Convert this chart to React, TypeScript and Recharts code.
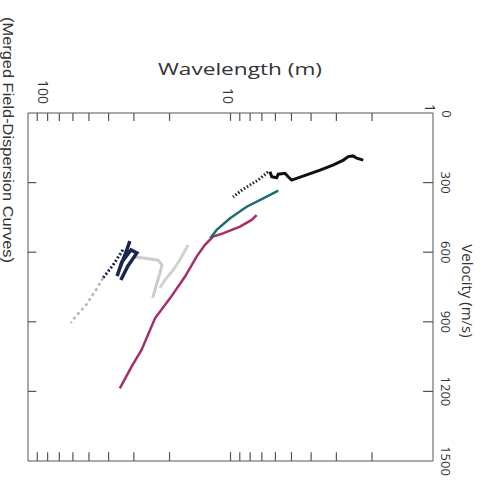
import { LineChart, Line, XAxis, YAxis, ReferenceArea, ReferenceLine } from "recharts";

// wavelength (m) / velocity (m/s) pairs
const blackCurve = [
  { w: 2.21, v: 203 },
  { w: 2.38, v: 195 },
  { w: 2.48, v: 185 },
  { w: 2.62, v: 188 },
  { w: 2.77, v: 203 },
  { w: 3.1, v: 224 },
  { w: 3.61, v: 246 },
  { w: 4.21, v: 267 },
  { w: 4.99, v: 289 },
  { w: 5.19, v: 275 },
  { w: 5.38, v: 260 },
  { w: 5.81, v: 264 },
  { w: 5.92, v: 279 },
  { w: 6.26, v: 275 },
  { w: 6.38, v: 253 },
];
const blackDotted = [
  { w: 6.53, v: 254 },
  { w: 7.31, v: 289 },
  { w: 8.01, v: 310 },
  { w: 8.77, v: 332 },
  { w: 9.72, v: 362 },
];
const tealCurve = [
  { w: 5.81, v: 335 },
  { w: 6.89, v: 368 },
  { w: 8.32, v: 404 },
  { w: 10.05, v: 454 },
  { w: 11.7, v: 504 },
  { w: 12.6, v: 540 },
];
const magentaCurve = [
  { w: 7.43, v: 440 },
  { w: 7.86, v: 461 },
  { w: 8.98, v: 490 },
  { w: 10.9, v: 519 },
  { w: 12.2, v: 533 },
  { w: 13.4, v: 569 },
  { w: 14.7, v: 619 },
  { w: 16.8, v: 706 },
  { w: 19.9, v: 799 },
  { w: 23.6, v: 885 },
  { w: 27.5, v: 1021 },
  { w: 30.8, v: 1093 },
  { w: 35.2, v: 1187 },
];
const navyCurve = [
  { w: 31.4, v: 552 },
  { w: 33.2, v: 612 },
  { w: 35.5, v: 677 },
  { w: 36.3, v: 703 },
  { w: 34.4, v: 642 },
  { w: 31.0, v: 590 },
  { w: 29.0, v: 603 },
  { w: 32.1, v: 659 },
  { w: 34.8, v: 720 },
];
const navyDotted = [
  { w: 34.0, v: 590 },
  { w: 38.0, v: 655 },
  { w: 42.6, v: 711 },
];
const grayDashed = [
  { w: 42.6, v: 711 },
  { w: 46.2, v: 763 },
  { w: 51.7, v: 828 },
  { w: 57.9, v: 875 },
  { w: 61.4, v: 905 },
];
const grayCurveA = [
  { w: 30.3, v: 621 },
  { w: 27.0, v: 625 },
  { w: 22.8, v: 634 },
  { w: 21.8, v: 655 },
  { w: 22.3, v: 690 },
  { w: 23.1, v: 733 },
  { w: 24.2, v: 797 },
];
const grayCurveB = [
  { w: 16.2, v: 569 },
  { w: 17.8, v: 634 },
  { w: 19.2, v: 677 },
  { w: 21.1, v: 720 },
  { w: 22.3, v: 754 },
];

const waveTicks = [2, 3, 4, 5, 6, 7, 8, 9, 10, 20, 30, 40, 50, 60, 70, 80, 90];
const waveLabels = [1, 10, 100];
const velocityTicks = [0, 300, 600, 900, 1200, 1500];
const velocityInner = [300, 600, 900, 1200];

const PLOT_TOP = 113;
const PLOT_BOTTOM = 461;
const PLOT_LEFT = 28;
const PLOT_RIGHT = 433;
const X_AXIS_H = 30;
const Y_AXIS_W = 40;
const AXIS = "#555";
const TEXT = "#333";
const FONT = "'Open Sans', 'Noto Sans', sans-serif";

// tick mark lengths, in data units (about 8-10 px)
const TOP_TICK = 34;
const BOTTOM_TICK = 38;
const LEFT_TICK_END = 91;
const RIGHT_TICK_END = 1.12;

function WaveLabel(props: any) {
  const { x, payload } = props;
  const val = payload.value;
  let lx = x - 2;
  let ly = 104;
  if (val === 100) lx = x + 15;
  if (val === 1) {
    lx = x - 3;
    ly = 112;
  }
  return (
    <text
      transform={`translate(${lx},${ly}) rotate(90)`}
      textAnchor="end"
      dominantBaseline="central"
      fontSize={14}
      fill={TEXT}
      fontFamily={FONT}
    >
      {val}
    </text>
  );
}

function VelocityLabel(props: any) {
  const { y, payload } = props;
  const val = payload.value;
  return (
    <text
      transform={`translate(${val === 0 ? 447 : 446},${val === 0 ? y + 1 : y}) rotate(90)`}
      textAnchor="middle"
      dominantBaseline="central"
      fontSize={13}
      fill={TEXT}
      fontFamily={FONT}
    >
      {val}
    </text>
  );
}

export default function App() {
  return (
    <div style={{ position: "absolute", left: 0, top: 0, width: 490, height: 487, background: "#fff" }}>
      <LineChart
        width={490}
        height={487}
        margin={{
          top: PLOT_TOP - X_AXIS_H,
          left: PLOT_LEFT,
          right: 490 - PLOT_RIGHT - Y_AXIS_W,
          bottom: 487 - PLOT_BOTTOM,
        }}
      >
        <XAxis
          dataKey="w"
          type="number"
          scale="log"
          domain={[1, 100]}
          allowDataOverflow
          reversed
          orientation="top"
          height={X_AXIS_H}
          ticks={waveLabels}
          interval={0}
          tickSize={0}
          tickLine={false}
          axisLine={false}
          tick={<WaveLabel />}
        />
        <YAxis
          type="number"
          domain={[0, 1500]}
          allowDataOverflow
          reversed
          orientation="right"
          width={Y_AXIS_W}
          ticks={velocityTicks}
          interval={0}
          tickSize={0}
          tickLine={false}
          axisLine={false}
          tick={<VelocityLabel />}
        />
        <ReferenceArea x1={1} x2={100} y1={0} y2={1500} fill="none" stroke={AXIS} strokeWidth={1} ifOverflow="visible" />

        {waveTicks.map((t) => (
          <ReferenceLine
            key={`top-${t}`}
            segment={[{ x: t, y: 0 }, { x: t, y: TOP_TICK }]}
            stroke={AXIS}
            strokeWidth={1.2}
            ifOverflow="visible"
          />
        ))}
        {waveTicks.map((t) => (
          <ReferenceLine
            key={`bottom-${t}`}
            segment={[{ x: t, y: 1500 }, { x: t, y: 1500 - BOTTOM_TICK }]}
            stroke={AXIS}
            strokeWidth={1.2}
            ifOverflow="visible"
          />
        ))}
        {velocityInner.map((v) => (
          <ReferenceLine
            key={`right-${v}`}
            segment={[{ x: 1, y: v }, { x: RIGHT_TICK_END, y: v }]}
            stroke={AXIS}
            strokeWidth={1.2}
            ifOverflow="visible"
          />
        ))}
        {velocityInner.map((v) => (
          <ReferenceLine
            key={`left-${v}`}
            segment={[{ x: 100, y: v }, { x: LEFT_TICK_END, y: v }]}
            stroke={AXIS}
            strokeWidth={1.2}
            ifOverflow="visible"
          />
        ))}

        <Line data={grayCurveB} dataKey="v" stroke="#d2d2d2" strokeWidth={3} dot={false} isAnimationActive={false} />
        <Line data={grayCurveA} dataKey="v" stroke="#cccccc" strokeWidth={3} dot={false} isAnimationActive={false} />
        <Line data={grayDashed} dataKey="v" stroke="#b5b5b5" strokeWidth={2.5} strokeDasharray="3 3" dot={false} isAnimationActive={false} />
        <Line data={navyDotted} dataKey="v" stroke="#1c2452" strokeWidth={3} strokeDasharray="2 2" dot={false} isAnimationActive={false} />
        <Line data={navyCurve} dataKey="v" stroke="#1c2452" strokeWidth={3.5} dot={false} isAnimationActive={false} />
        <Line data={magentaCurve} dataKey="v" stroke="#a3306c" strokeWidth={2.5} dot={false} isAnimationActive={false} />
        <Line data={tealCurve} dataKey="v" stroke="#1d6e70" strokeWidth={2.5} dot={false} isAnimationActive={false} />
        <Line data={blackDotted} dataKey="v" stroke="#222" strokeWidth={3} strokeDasharray="1.5 2" dot={false} isAnimationActive={false} />
        <Line data={blackCurve} dataKey="v" stroke="#111" strokeWidth={3} dot={false} isAnimationActive={false} />

        <text x={240} y={75} textAnchor="middle" fontSize={17} fontWeight={500} fill={TEXT} fontFamily={FONT} textLength={164} lengthAdjust="spacingAndGlyphs">
          Wavelength (m)
        </text>
        <text
          transform="translate(468,291) rotate(90)"
          textAnchor="middle"
          dominantBaseline="central"
          fontSize={15}
          fill={TEXT}
          fontFamily={FONT}
        >
          Velocity (m/s)
        </text>
        <text
          transform="translate(8,140) rotate(90)"
          textAnchor="middle"
          dominantBaseline="central"
          fontSize={14}
          fill={TEXT}
          fontFamily="'Liberation Sans', Arial, sans-serif"
          textLength={246}
          lengthAdjust="spacingAndGlyphs"
        >
          (Merged Field-Dispersion Curves)
        </text>
      </LineChart>
    </div>
  );
}
